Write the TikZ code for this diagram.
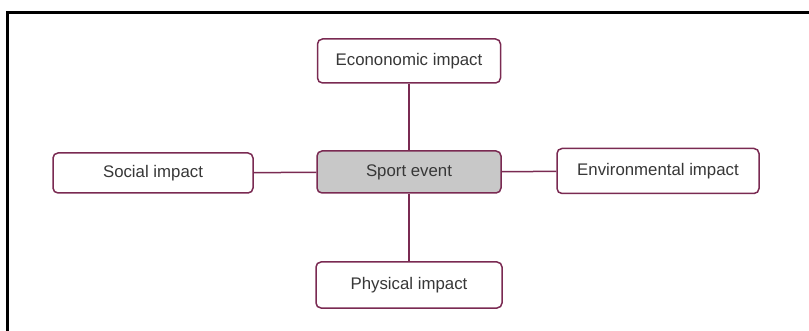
\documentclass[tikz,border=0pt]{standalone}
\usepackage{fontspec}
\setmainfont{Liberation Sans}
\usepackage{tikz}
\definecolor{ImpMaroon}{RGB}{122,42,82}
\definecolor{ImpGray}{RGB}{200,200,200}
\definecolor{ImpText}{RGB}{55,55,55}

\begin{document}
\begin{tikzpicture}[x=1pt, y=-1pt,
    impactbox/.style={draw=ImpMaroon, line width=1.5pt, rounded corners=5pt,
                      fill=white, text=ImpText, inner sep=0pt,
                      font=\fontsize{16.8}{19}\selectfont},
    hubbox/.style={impactbox, fill=ImpGray},
    link/.style={ImpMaroon, line width=1.5pt}]
  \useasboundingbox (0,0) rectangle (809,331);
  % frame, open at the right and bottom
  \draw[line width=3pt] (7,331) -- (7,13) -- (809,13);

  \node[hubbox, minimum width=184pt, minimum height=42pt] (sport) at (409,172) {Sport event};
  \node[impactbox, minimum width=183pt, minimum height=44pt] (econ) at (409,61) {Econonomic impact};
  \node[impactbox, minimum width=200pt, minimum height=40pt] (social) at (153,173) {Social impact};
  \node[impactbox, minimum width=202pt, minimum height=45pt] (envir) at (658,171) {Environmental impact};
  \node[impactbox, minimum width=186pt, minimum height=46pt] (phys) at (409,285) {Physical impact};

  % spokes out of the hub
  \draw[link] (econ) -- (sport);
  \draw[link] (sport) -- (phys);
  \draw[link] (social) -- (sport);
  \draw[link] (sport) -- (envir);
\end{tikzpicture}
\end{document}
